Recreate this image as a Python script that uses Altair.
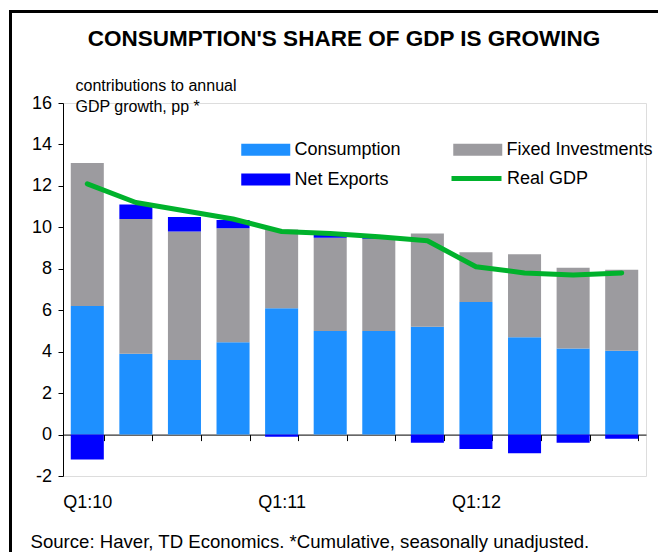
import altair as alt
import pandas as pd

# ---- data ----
quarters = ["Q1:10", "Q2:10", "Q3:10", "Q4:10",
            "Q1:11", "Q2:11", "Q3:11", "Q4:11",
            "Q1:12", "Q2:12", "Q3:12", "Q4:12"]
consumption = [6.2, 3.9, 3.6, 4.45, 6.1, 5.0, 5.0, 5.2, 6.4, 4.7, 4.15, 4.05]
fixed_investments = [6.9, 6.5, 6.2, 5.5, 3.8, 4.5, 4.45, 4.5, 2.4, 4.0, 3.9, 3.9]
net_exports = [-1.2, 0.7, 0.7, 0.4, -0.1, 0.15, 0.05, -0.4, -0.7, -0.9, -0.4, -0.2]
real_gdp = [12.1, 11.2, 10.8, 10.4, 9.8, 9.7, 9.55, 9.35, 8.1, 7.8, 7.7, 7.8]

components = ["Consumption", "Fixed Investments", "Net Exports"]
legend_order = ["Consumption", "Net Exports", "Fixed Investments"]
legend_colors = ["#1e90ff", "#0000ff", "#9c9b9f"]
line_name = "Real GDP"
line_color = "#00b22c"
y_ticks = [-2, 0, 2, 4, 6, 8, 10, 12, 14, 16]

title_text = "CONSUMPTION'S SHARE OF GDP IS GROWING"
y_title = ["contributions to annual", "GDP growth, pp *"]
source_text = "Source: Haver, TD Economics. *Cumulative, seasonally unadjusted."

FONT = "Liberation Sans"

# ---- tables ----
rows = []
for series, vals in zip(components, [consumption, fixed_investments, net_exports]):
    for q, v in zip(quarters, vals):
        rows.append({"quarter": q, "component": series, "value": v,
                     "k": components.index(series)})
bars_df = pd.DataFrame(rows)
line_df = pd.DataFrame({"quarter": quarters, "value": real_gdp,
                        "series": [line_name] * len(quarters)})

x_enc = alt.X(
    "quarter:N", sort=quarters,
    scale=alt.Scale(paddingInner=0.32, paddingOuter=0.16),
    axis=alt.Axis(
        title=source_text, titleFont=FONT, titleFontSize=18.6, titleFontWeight="normal",
        titleColor="black", titleAlign="left", titleBaseline="alphabetic",
        titleX=-33, titleY=113,
        labelExpr="indexof(datum.label, 'Q1') == 0 ? datum.label : ''",
        labelAngle=0, labelOverlap=False, labelFont=FONT, labelFontSize=18,
        labelColor="black", labelPadding=53,
        offset=-41.4, tickBand="extent", tickSize=6,
        domainColor="black", tickColor="black", domainWidth=1, tickWidth=1,
    ),
)

y_enc = alt.Y(
    "value:Q", stack="zero",
    scale=alt.Scale(domain=[-2, 16], nice=False, zero=False),
    axis=alt.Axis(
        values=y_ticks, grid=False, tickSize=5, labelPadding=6.5,
        labelExpr="'' + datum.value",
        labelFont=FONT, labelFontSize=18, labelColor="black",
        domainColor="black", tickColor="black",
        title=y_title, titleAngle=0, titleAlign="left", titleBaseline="alphabetic",
        titleX=12, titleY=-13, titleFont=FONT, titleFontSize=16,
        titleFontWeight="normal", titleLineHeight=21, titleColor="black",
    ),
)

frame = alt.Chart(pd.DataFrame({"a": [0]})).mark_rect(
    filled=False, stroke="black", strokeWidth=3
).encode(
    x=alt.value(-52.5), x2=alt.value(700), y=alt.value(-91.5), y2=alt.value(600)
)

bars = alt.Chart(bars_df).mark_bar().encode(
    x=x_enc,
    y=y_enc,
    color=alt.Color(
        "component:N",
        scale=alt.Scale(domain=legend_order, range=legend_colors),
        legend=alt.Legend(
            title=None, orient="none", legendX=178, legendY=34, columns=2,
            columnPadding=52, rowPadding=8, padding=0,
            symbolType="M-1,-0.49H3V0.49H-1Z", symbolSize=600.25,
            symbolStrokeWidth=0, symbolOpacity=1,
            labelFont=FONT, labelFontSize=18, labelColor="black",
            labelOffset=28.5, labelLimit=400,
        ),
    ),
    order=alt.Order("k:Q"),
)

line = alt.Chart(line_df).mark_line(
    strokeWidth=5, strokeCap="round", strokeJoin="round"
).encode(
    x=alt.X("quarter:N", sort=quarters),
    y=alt.Y("value:Q", stack=None),
    stroke=alt.Stroke(
        "series:N",
        scale=alt.Scale(domain=[line_name], range=[line_color]),
        legend=alt.Legend(
            title=None, orient="none", legendX=386, legendY=48, padding=0,
            symbolType="stroke", symbolSize=2500, symbolStrokeWidth=5,
            labelFont=FONT, labelFontSize=18, labelColor="black",
            labelOffset=3, labelLimit=400,
        ),
    ),
)

chart = alt.layer(frame, bars, line).properties(
    width=583,
    height=373,
    padding={"left": 55, "top": 95, "right": 12, "bottom": 76},
    autosize=alt.AutoSizeParams(type="none"),
    title=alt.TitleParams(
        text=title_text, font=FONT, fontSize=22.5, fontWeight="bold",
        color="black", anchor="middle", dx=-10.5, offset=-40,
    ),
).configure_view(stroke=None).configure(background="white")

chart.save("out.html", embed_options={"renderer": "svg", "actions": False})
